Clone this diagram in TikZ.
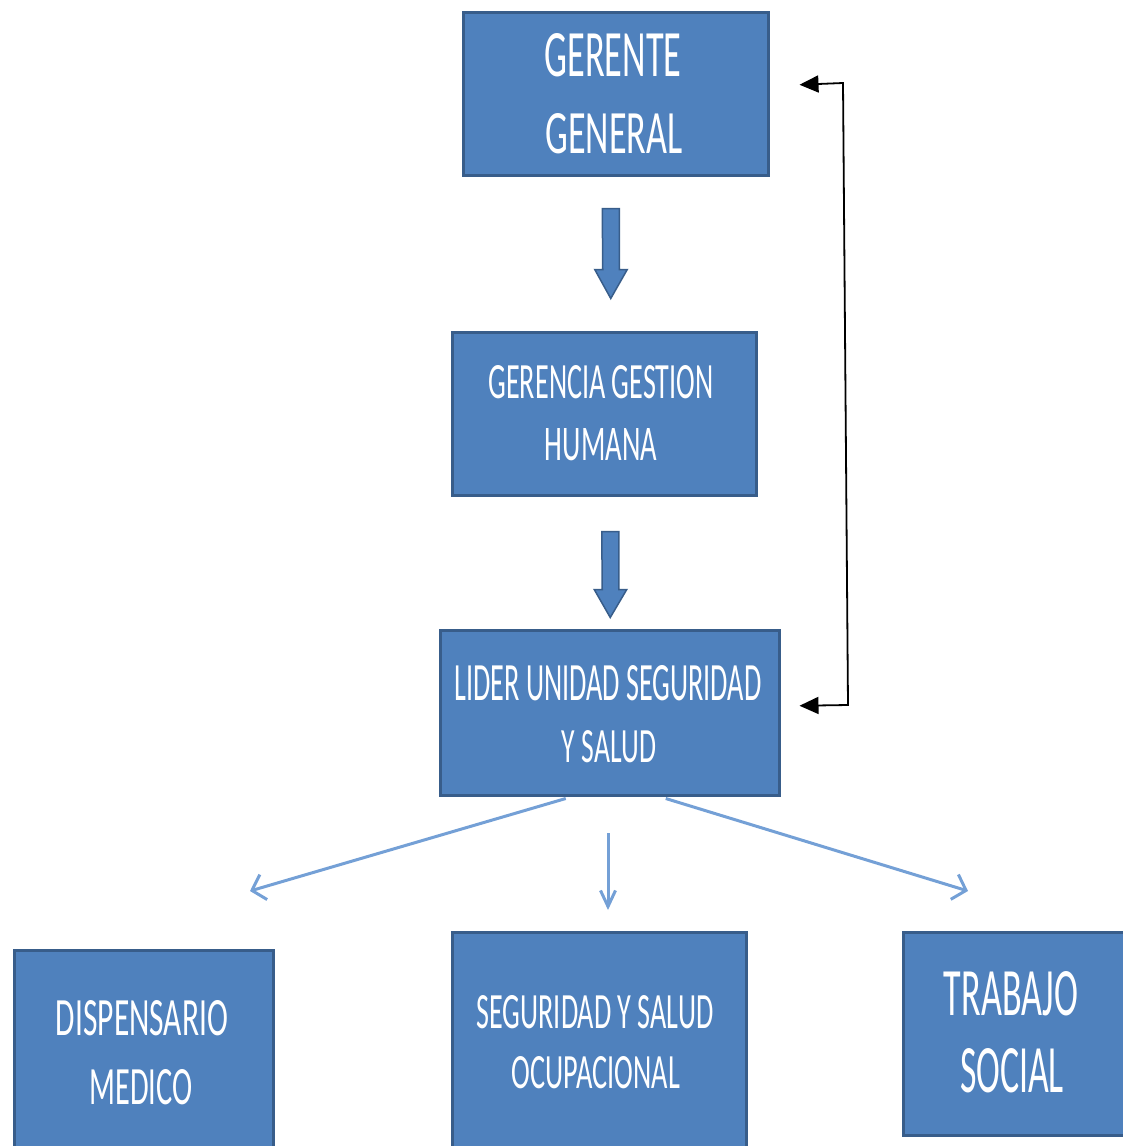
\documentclass[tikz,border=0pt]{standalone}
\usepackage{fontspec}
\newfontfamily\carlito{Carlito}
\usetikzlibrary{arrows.meta,calc}
\definecolor{boxfill}{HTML}{4F81BD}
\definecolor{boxline}{HTML}{385D8A}
\definecolor{lightarrow}{HTML}{74A0D6}
\newcommand{\fittxt}[3]{\resizebox{#1pt}{#2pt}{\carlito #3}}
\begin{document}
\begin{tikzpicture}[x=1pt,y=-1pt,
  box/.style={draw=boxline, line width=2.5pt, fill=boxfill, inner sep=0pt, anchor=north west},
  lbl/.style={anchor=base, inner sep=0pt, text=white},
  blockarrow/.style={draw=boxline, line width=1.5pt, fill=boxfill, line join=miter},
  feedback/.style={draw=black, line width=1.8pt, {Triangle[length=19pt,width=17pt]}-{Triangle[length=19pt,width=17pt]}},
  lightarr/.style={draw=lightarrow, line width=3pt}]
\useasboundingbox (0,0) rectangle (1123,1146);
\clip (0,0) rectangle (1123,1146);

% boxes
\node[box, minimum width=305pt, minimum height=163pt] (gg) at (462,11) {};
\node[box, minimum width=304pt, minimum height=163pt] (gh) at (451,331) {};
\node[box, minimum width=339pt, minimum height=165pt] (ld) at (439,629) {};
\node[box, minimum width=259pt, minimum height=230pt] (dm) at (13,949) {};
\node[box, minimum width=294pt, minimum height=230pt] (so) at (451,931) {};
\node[box, minimum width=240pt, minimum height=203pt] (ts) at (902,931) {};

% labels
\node[lbl] (gg1) at (613,76) {\fittxt{137}{43}{GERENTE}};
\node[lbl] (gg2) at (614,153) {\fittxt{137}{40}{GENERAL}};
\node[lbl] (gh1) at (601,398) {\fittxt{225}{33}{GERENCIA GESTION}};
\node[lbl] (gh2) at (601,460) {\fittxt{112}{32}{HUMANA}};
\node[lbl] (ld1) at (608,700) {\fittxt{307}{35}{LIDER UNIDAD SEGURIDAD}};
\node[lbl] (ld2) at (609,762) {\fittxt{94}{32}{Y SALUD}};
\node[lbl] (dm1) at (142,1035) {\fittxt{172}{35}{DISPENSARIO}};
\node[lbl] (dm2) at (141,1104) {\fittxt{103}{35}{MEDICO}};
\node[lbl] (so1) at (595,1028) {\fittxt{237}{33}{SEGURIDAD Y SALUD}};
\node[lbl] (so2) at (596,1088) {\fittxt{168}{32}{OCUPACIONAL}};
\node[lbl] (ts1) at (1011,1015) {\fittxt{134}{44}{TRABAJO}};
\node[lbl] (ts2) at (1012,1092) {\fittxt{104}{44}{SOCIAL}};

% block arrows
\coordinate (a1) at ($(gg.south)+(-5,32)$);
\draw[blockarrow] ($(a1)+(-8.5,0)$) -- ++(17,0) -- ++(0,61) -- ++(8,0) -- ($(a1)+(0,90)$) -- ($(a1)+(-16,61)$) -- ++(8,0) -- cycle;
\coordinate (a2) at ($(gh.south)+(6,35)$);
\draw[blockarrow] ($(a2)+(-8.5,0)$) -- ++(17,0) -- ++(0,58) -- ++(8,0) -- ($(a2)+(0,86)$) -- ($(a2)+(-16,58)$) -- ++(8,0) -- cycle;

% feedback connector
\coordinate (fbTop) at ($(gg.east)+(30,-9)$);
\coordinate (fbBot) at ($(ld.east)+(19,-7)$);
\draw[feedback] (fbTop) -- (843,83) -- (848,705) -- (fbBot);

% light arrows
\coordinate (lt) at (250,891);
\coordinate (mt) at (608,910);
\coordinate (ms) at (608,833);
\coordinate (rt) at (968,891);
\draw[lightarr, -{Straight Barb[length=12pt,width=26pt]}] ($(ld.south)+(-44,2)$) -- (lt);
\draw[lightarr, -{Straight Barb[length=16pt,width=15pt]}] (ms) -- (mt);
\draw[lightarr, -{Straight Barb[length=12pt,width=26pt]}] ($(ld.south)+(56,2)$) -- (rt);
\end{tikzpicture}
\end{document}
